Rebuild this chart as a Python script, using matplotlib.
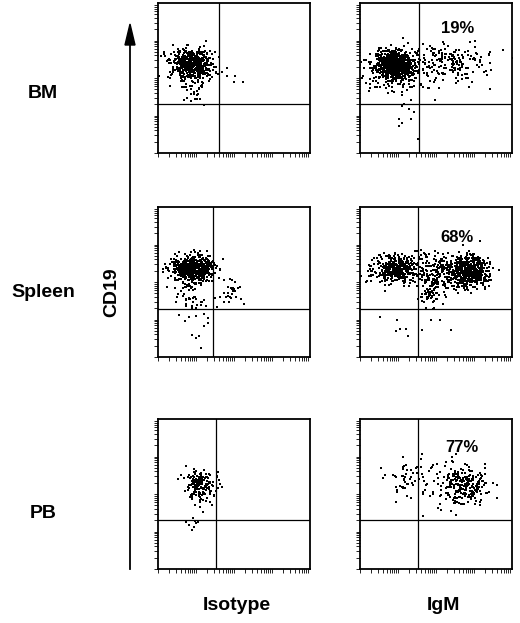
import numpy as np
import matplotlib.pyplot as plt

plt.rcParams['font.family'] = ['Liberation Sans', 'DejaVu Sans']

rows = ["BM", "Spleen", "PB"]
cols = ["Isotype", "IgM"]
percents = ["19%", "68%", "77%"]
percent_pos = [(0.53, 0.83), (0.53, 0.80), (0.56, 0.81)]

# quadrant gates per panel (x, y in axis fractions)
gates = {
    (0, 0): (0.40, 0.33), (0, 1): (0.39, 0.33),
    (1, 0): (0.36, 0.32), (1, 1): (0.38, 0.32),
    (2, 0): (0.38, 0.33), (2, 1): (0.38, 0.33),
}
# event clusters per panel: (x centre, y centre, x spread, y spread, count)
clusters = {
    (0, 0): [(0.22, 0.59, 0.07, 0.05, 500), (0.22, 0.45, 0.06, 0.06, 40),
             (0.50, 0.45, 0.05, 0.06, 4)],
    (0, 1): [(0.23, 0.59, 0.06, 0.045, 600), (0.22, 0.55, 0.11, 0.07, 200),
             (0.58, 0.60, 0.13, 0.06, 200), (0.30, 0.30, 0.05, 0.12, 15)],
    (1, 0): [(0.23, 0.59, 0.07, 0.045, 550), (0.22, 0.42, 0.05, 0.08, 50),
             (0.48, 0.44, 0.05, 0.04, 30), (0.25, 0.20, 0.04, 0.06, 8)],
    (1, 1): [(0.24, 0.59, 0.06, 0.04, 300), (0.15, 0.58, 0.10, 0.05, 80),
             (0.71, 0.57, 0.07, 0.05, 550), (0.50, 0.56, 0.10, 0.07, 200),
             (0.46, 0.42, 0.03, 0.04, 40), (0.45, 0.22, 0.20, 0.05, 10)],
    (2, 0): [(0.27, 0.56, 0.05, 0.06, 170), (0.25, 0.30, 0.04, 0.03, 8)],
    (2, 1): [(0.70, 0.56, 0.07, 0.07, 220), (0.30, 0.60, 0.08, 0.07, 50),
             (0.52, 0.55, 0.08, 0.08, 40)],
}

fig = plt.figure(figsize=(5.2, 6.23), dpi=100)
W, H = 520, 623
col_x = [158, 360]
row_y = [3, 207, 419]
pw, ph = 152, 150

rng = np.random.default_rng(3)
for r in range(3):
    for c in range(2):
        ax = fig.add_axes([col_x[c] / W, 1 - (row_y[r] + ph) / H, pw / W, ph / H])
        for cx, cy, sx, sy, n in clusters[(r, c)]:
            x = rng.normal(cx, sx, n)
            y = rng.normal(cy, sy, n)
            ax.scatter(x, y, s=0.8, c='black', marker='s', linewidths=0)
        gx, gy = gates[(r, c)]
        ax.axvline(gx, color='black', lw=0.9)
        ax.axhline(gy, color='black', lw=0.9)
        ax.set_xlim(0, 1)
        ax.set_ylim(0, 1)
        ticks = np.concatenate([np.log10(np.arange(1, 10)) / 4 + k / 4 for k in range(4)])
        ax.set_xticks(ticks)
        ax.set_yticks(ticks)
        ax.set_xticklabels([])
        ax.set_yticklabels([])
        ax.tick_params(direction='out', length=3, width=0.6)
        for s in ax.spines.values():
            s.set_linewidth(1.3)
        if c == 1:
            px, py = percent_pos[r]
            ax.text(px, py, percents[r], transform=ax.transAxes,
                    fontsize=12, fontweight='bold', va='center')

label_y = [94, 292, 513]
for r, lab in enumerate(rows):
    fig.text(43 / W, 1 - label_y[r] / H, lab, fontsize=14,
             fontweight='bold', ha='center', va='center')
label_x = [237, 443]
for c, lab in enumerate(cols):
    fig.text(label_x[c] / W, 1 - 605 / H, lab, fontsize=14,
             fontweight='bold', ha='center', va='center')

fig.text(112 / W, 1 - 292 / H, "CD19", fontsize=14, fontweight='bold',
         rotation=90, ha='center', va='center')
fig.add_artist(plt.Line2D([130 / W, 130 / W], [1 - 569 / H, 1 - 40 / H],
                          color='black', lw=1.3))
fig.patches.append(plt.Polygon([[125 / W, 1 - 45 / H], [135 / W, 1 - 45 / H],
                                [130 / W, 1 - 24 / H]], closed=True,
                               color='black', transform=fig.transFigure))

fig.savefig("out.png", dpi=100)
